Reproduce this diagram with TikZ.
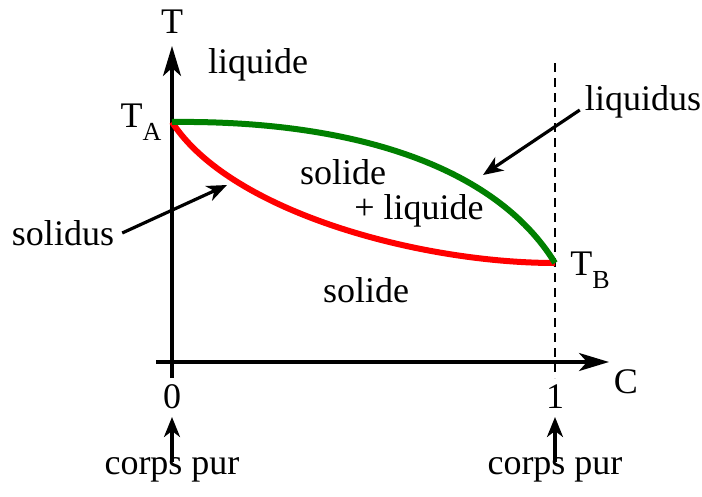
\documentclass[tikz,border=0pt]{standalone}
\usepackage{fontspec}
\setmainfont{Liberation Serif}
\usetikzlibrary{arrows.meta}
\newcommand{\subA}[2]{#1\raisebox{-0.36em}{\fontsize{26}{26}\selectfont #2}}
\begin{document}
\begin{tikzpicture}[x=1pt,y=-1pt,
  lbl/.style={font=\fontsize{36}{40}\selectfont, inner sep=0pt},
  axis/.style={line width=3.2pt,-{Stealth[length=30pt,width=18pt,inset=8pt]}},
  pointer/.style={line width=3.2pt,-{Stealth[length=20pt,width=16pt,inset=6pt]}},
  liq/.style={line width=6pt,draw={rgb,255:red,0;green,128;blue,0}},
  sol/.style={line width=6pt,draw={rgb,255:red,255;green,0;blue,0}},
  guide/.style={line width=1.4pt,dash pattern=on 9pt off 6pt}]
\useasboundingbox (0,0) rectangle (702,496);
% points
\coordinate (O) at (172,362);
\coordinate (ybot) at (172,378);
\coordinate (ytop) at (172,46);
\coordinate (xleft) at (156,362);
\coordinate (xright) at (609,362);
\coordinate (TA) at (172,122);
\coordinate (TB) at (555,263);
\coordinate (dtop) at (555,63);
\coordinate (dbot) at (555,378);
% axes
\draw[axis] (ybot) -- (ytop);
\draw[axis] (xleft) -- (xright);
\draw[guide] (dtop) -- (dbot);
% curves
\draw[sol] (TA) .. controls (230,212) and (420,263) .. (TB);
\draw[liq] (TA) .. controls (350,120) and (495,165) .. (TB);
% labels
\node[lbl] (T) at (172,22) {T};
\node[lbl] (C) at (626,382) {C};
\node[lbl] (lTA) at (141,122) {\subA{T}{A}};
\node[lbl] (lTB) at (590,270) {\subA{T}{B}};
\node[lbl] (liquide) at (258,65) {liquide};
\node[lbl] (solide1) at (343,172) {solide};
\node[lbl] (pliquide) at (419,211) {+ liquide};
\node[lbl] (solide2) at (366,290) {solide};
\node[lbl] (liquidus) at (643,102) {liquidus};
\node[lbl] (solidus) at (63,233) {solidus};
\node[lbl] (zero) at (172,397) {0};
\node[lbl] (one) at (555,397) {1};
\node[lbl] (cp1) at (172,470) {corps pur};
\node[lbl] (cp2) at (555,470) {corps pur};
% pointers
\coordinate (liqtip) at (483,175);
\coordinate (soltip) at (227,185);
\draw[pointer] (liquidus.west) ++(-5,8) -- (liqtip);
\draw[pointer] (solidus.east) ++(8,0) -- (soltip);
\draw[pointer] (172,462) -- (172,417);
\draw[pointer] (555,462) -- (555,417);
\end{tikzpicture}
\end{document}
